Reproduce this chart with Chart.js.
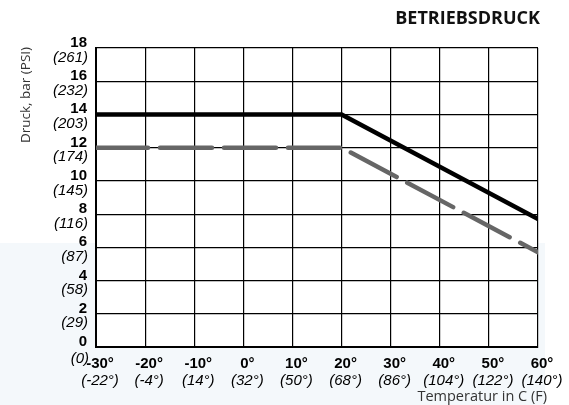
<!DOCTYPE html>
<html>
<head>
<meta charset="utf-8">
<script src="https://cdn.jsdelivr.net/npm/chart.js@4.4.1/dist/chart.umd.min.js"></script>
<style>
  html, body { margin: 0; padding: 0; background: #fff; }
  #wrap { position: relative; width: 569px; height: 405px; }
</style>
</head>
<body>
<div id="wrap"><canvas id="chart"></canvas></div>
<script>
// temperature axis (C with F in brackets)
const tempC = [-30, -20, -10, 0, 10, 20, 30, 40, 50, 60];
const tempF = ['(-22°)', '(-4°)', '(14°)', '(32°)', '(50°)', '(68°)', '(86°)', '(104°)', '(122°)', '(140°)'];

// pressure axis (bar with PSI in brackets)
const pressBar = [0, 2, 4, 6, 8, 10, 12, 14, 16, 18];
const pressPsi = ['(0)', '(29)', '(58)', '(87)', '(116)', '(145)', '(174)', '(203)', '(232)', '(261)'];

// curves
const curveTemp = [-30, 20, 60];
const upperPress = [14, 14, 7.7];
const lowerPress = [12, 12, 5.7];

const toPoints = (xs, ys) => xs.map((x, i) => ({ x: x, y: ys[i] }));

const tickFontBold = 'bold 15px "Liberation Sans", Arial, sans-serif';
const tickFontItalic = 'italic 15px "Liberation Sans", Arial, sans-serif';
const textFont = '"Open Sans", "Noto Sans", sans-serif';

// page background + white plot area
const backdrop = {
    id: 'backdrop',
    beforeDraw(chart) {
        const c = chart.ctx;
        const a = chart.chartArea;
        c.save();
        c.fillStyle = '#f4f8fb';
        c.fillRect(0, 243, 545, chart.height - 243);
        c.fillStyle = '#ffffff';
        c.fillRect(a.left, a.top, a.right - a.left, a.bottom - a.top);
        c.restore();
    }
};

// two-style tick labels and titles
const labels = {
    id: 'labels',
    afterDraw(chart) {
        const c = chart.ctx;
        const xs = chart.scales.x;
        const ys = chart.scales.y;
        c.save();
        c.fillStyle = '#000';

        // y ticks
        c.textAlign = 'right';
        pressBar.forEach((v, i) => {
            const py = ys.getPixelForValue(v);
            c.font = tickFontBold;
            c.textBaseline = 'alphabetic';
            c.fillText(String(v), 87, py - 1);
            if (v !== 0) {
                c.font = tickFontItalic;
                c.textBaseline = 'top';
                c.fillText(pressPsi[i], 88, py + 2);
            }
        });
        // the (0) sits next to -30°
        c.font = tickFontItalic;
        c.textBaseline = 'alphabetic';
        c.fillText(pressPsi[0], 89, ys.getPixelForValue(0) + 16);

        // x ticks
        c.textAlign = 'center';
        tempC.forEach((v, i) => {
            const px = xs.getPixelForValue(v) + 4;
            c.font = tickFontBold;
            c.textBaseline = 'alphabetic';
            c.fillText(v + '°', px, xs.bottom + 21);
            c.font = tickFontItalic;
            c.fillText(tempF[i], px, xs.bottom + 38);
        });

        // titles
        c.fillStyle = '#111';
        c.font = 'bold 18px ' + textFont;
        c.textAlign = 'right';
        c.fillText('BETRIEBSDRUCK', 540, 24);

        c.font = '14.5px ' + textFont;
        c.fillStyle = '#333';
        c.fillText('Temperatur in C (F)', 547, 401);

        c.font = '13.5px ' + textFont;
        c.translate(30, 95);
        c.rotate(-Math.PI / 2);
        c.textAlign = 'center';
        c.fillText('Druck, bar (PSI)', 0, 0);
        c.restore();
    }
};

new Chart(document.getElementById('chart'), {
    type: 'line',
    data: {
        datasets: [
            {
                label: 'upper',
                data: toPoints(curveTemp, upperPress),
                borderColor: '#000000',
                borderWidth: 4.5,
                pointRadius: 0,
                tension: 0,
                fill: false
            },
            {
                label: 'lower',
                data: toPoints(curveTemp, lowerPress),
                borderColor: '#666666',
                borderWidth: 4.5,
                borderDash: [52, 12],
                borderCapStyle: 'round',
                pointRadius: 0,
                tension: 0,
                fill: false
            }
        ]
    },
    options: {
        responsive: true,
        maintainAspectRatio: false,
        animation: false,
        layout: { padding: { left: 96, top: 48, right: 31, bottom: 58 } },
        plugins: {
            legend: { display: false },
            tooltip: { enabled: false }
        },
        scales: {
            x: {
                type: 'linear',
                min: -30,
                max: 60,
                ticks: { display: false, stepSize: 10 },
                grid: { color: '#000', lineWidth: 1.2, drawTicks: false },
                border: { color: '#000', width: 2 }
            },
            y: {
                min: 0,
                max: 18,
                ticks: { display: false, stepSize: 2 },
                grid: { color: '#000', lineWidth: 1.2, drawTicks: false },
                border: { color: '#000', width: 2 }
            }
        }
    },
    plugins: [backdrop, labels]
});
</script>
</body>
</html>
